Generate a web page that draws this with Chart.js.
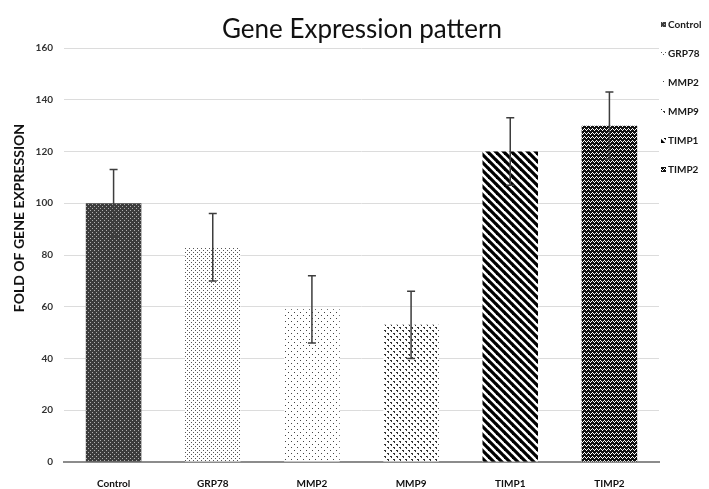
<!DOCTYPE html>
<html>
<head>
<meta charset="utf-8">
<script src="https://cdn.jsdelivr.net/npm/chart.js@4.4.1/dist/chart.umd.min.js"></script>
<style>
  html, body { margin: 0; padding: 0; background: #fff; }
  #wrap { width: 709px; height: 489px; position: relative; }
</style>
</head>
<body>
<div id="wrap"><canvas id="chart" width="709" height="489"></canvas></div>
<script>
// ─── DATA ─────────────────────────────────────────────────────────────────────
const categories = ['Control', 'GRP78', 'MMP2', 'MMP9', 'TIMP1', 'TIMP2'];
const foldValues = [100, 83, 59, 53, 120, 130];
const errorValues = [13, 13, 13, 13, 13, 13];
const yTicks = [0, 20, 40, 60, 80, 100, 120, 140, 160];

// ─── PATTERN HELPERS ──────────────────────────────────────────────────────────
function makeTile(size, draw) {
  const c = document.createElement('canvas');
  c.width = size; c.height = size;
  const g = c.getContext('2d');
  g.fillStyle = '#fff';
  g.fillRect(0, 0, size, size);
  draw(g, size);
  return g.createPattern(c, 'repeat');
}

const patterns = [
  // Control: dark checker
  makeTile(4, g => {
    g.fillStyle = '#3c3c3c'; g.fillRect(0, 0, 4, 4);
    g.fillStyle = '#b0b0b0'; g.fillRect(0, 0, 1, 1); g.fillRect(2, 2, 1, 1);
  }),
  // GRP78: dense small dots
  makeTile(4, g => {
    g.fillStyle = '#555'; g.fillRect(1, 0, 1, 1); g.fillRect(3, 2, 1, 1);
  }),
  // MMP2: sparse dots
  makeTile(6, g => {
    g.fillStyle = '#444'; g.fillRect(0, 0, 1, 1); g.fillRect(3, 3, 1, 1);
  }),
  // MMP9: staggered diamond dots
  makeTile(6, g => {
    g.fillStyle = '#333';
    g.fillRect(0, 0, 2, 1); g.fillRect(1, 1, 1, 1);
    g.fillRect(3, 3, 2, 1); g.fillRect(4, 4, 1, 1);
  }),
  // TIMP1: wide diagonal stripes
  makeTile(8, g => {
    g.strokeStyle = '#000'; g.lineWidth = 3.2;
    for (let o = -8; o <= 8; o += 8) {
      g.beginPath(); g.moveTo(o - 1, -1); g.lineTo(o + 9, 9); g.stroke();
    }
  }),
  // TIMP2: dense black weave
  makeTile(4, g => {
    g.fillStyle = '#111'; g.fillRect(0, 0, 4, 4);
    g.fillStyle = '#fff';
    g.fillRect(0, 0, 1, 1); g.fillRect(1, 1, 1, 1);
    g.fillRect(2, 2, 1, 1); g.fillRect(3, 1, 1, 1);
  })
];

// ─── PLUGINS ──────────────────────────────────────────────────────────────────
const errorBars = {
  id: 'errorBars',
  afterDatasetsDraw(chart) {
    const { ctx, scales: { y } } = chart;
    const meta = chart.getDatasetMeta(0);
    ctx.save();
    ctx.strokeStyle = '#3d3d3d';
    ctx.lineWidth = 1.5;
    meta.data.forEach((bar, i) => {
      const top = y.getPixelForValue(foldValues[i] + errorValues[i]);
      const bot = y.getPixelForValue(foldValues[i] - errorValues[i]);
      ctx.beginPath();
      ctx.moveTo(bar.x, top); ctx.lineTo(bar.x, bot);
      ctx.moveTo(bar.x - 4, top); ctx.lineTo(bar.x + 4, top);
      ctx.moveTo(bar.x - 4, bot); ctx.lineTo(bar.x + 4, bot);
      ctx.stroke();
    });
    ctx.restore();
  }
};

const decorations = {
  id: 'decorations',
  afterDraw(chart) {
    const { ctx } = chart;
    ctx.save();
    // title
    ctx.fillStyle = '#111';
    ctx.font = '26px Lato, "Open Sans", sans-serif';
    ctx.textAlign = 'center';
    ctx.textBaseline = 'alphabetic';
    ctx.fillText('Gene Expression pattern', 362, 38);

    // y axis title
    ctx.save();
    ctx.translate(19, 218);
    ctx.rotate(-Math.PI / 2);
    ctx.font = 'bold 14px Lato, "Open Sans", sans-serif';
    ctx.textBaseline = 'middle';
    ctx.fillText('FOLD OF GENE EXPRESSION', 0, 0);
    ctx.restore();

    // legend
    ctx.font = 'bold 10px Lato, "Open Sans", sans-serif';
    ctx.textAlign = 'left';
    ctx.textBaseline = 'middle';
    categories.forEach((name, i) => {
      const cy = 25 + i * 29;
      ctx.fillStyle = patterns[i];
      ctx.fillRect(661, cy - 3, 5, 5);
      ctx.fillStyle = '#1a1a1a';
      ctx.fillText(name, 668, cy);
    });
    ctx.restore();
  }
};

// ─── CHART ────────────────────────────────────────────────────────────────────
new Chart(document.getElementById('chart'), {
  type: 'bar',
  data: {
    labels: categories,
    datasets: [{
      data: foldValues,
      backgroundColor: patterns,
      borderWidth: 0,
      categoryPercentage: 1,
      barPercentage: 0.56
    }]
  },
  options: {
    responsive: false,
    animation: false,
    layout: { padding: { top: 48, right: 50, left: 0, bottom: 0 } },
    plugins: { legend: { display: false }, tooltip: { enabled: false } },
    scales: {
      x: {
        grid: { display: false },
        border: { color: '#8c8c8c', width: 2 },
        ticks: { color: '#111', font: { family: 'Lato', size: 10, weight: 'bold' }, padding: 8 },
        afterFit: s => { s.height = 27; }
      },
      y: {
        min: 0, max: 160,
        afterBuildTicks: s => { s.ticks = yTicks.map(v => ({ value: v })); },
        grid: { color: '#dcdcdc', lineWidth: 1, drawTicks: false },
        border: { display: false },
        ticks: { color: '#333', font: { family: 'Lato', size: 10, weight: 'bold' }, padding: 11 },
        afterFit: s => { s.width = 64; }
      }
    }
  },
  plugins: [errorBars, decorations]
});
</script>
</body>
</html>
